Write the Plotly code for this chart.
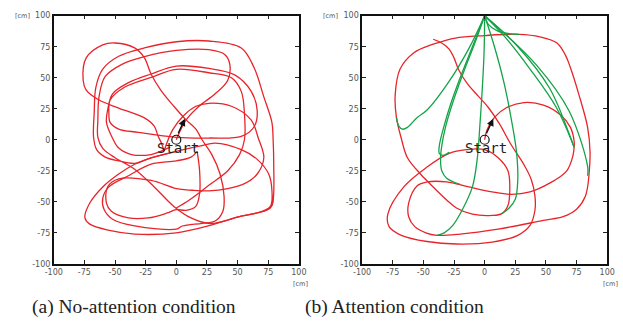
import plotly.graph_objects as go

# ---------------- data (cm) ----------------
tick_vals = [-100, -75, -50, -25, 0, 25, 50, 75, 100]
tick_text = ["-100", "-75", "-50", "-25", "0", "25", "50", "75", "100"]
start_point = (0, 0)
arrow_tail = (1, 4)
arrow_head = (7, 17)
target_point = (0, 100)

# (a) No-attention condition: red trajectory strokes
left_s1 = [(0, 0), (4, 9), (8, 16), (18.5, 27), (31.7, 37), (42, 48), (43.6, 61), (39.7, 68.6),
           (26.5, 72.6), (0, 72), (-26, 67), (-44, 61), (-58, 51), (-63, 35), (-64, 16), (-64, 2),
           (-60, -7), (-50, -14.5), (-34, -23.7), (-18, -38), (-2, -53.7), (12, -63), (27.6, -67.5),
           (53, -61.6), (66, -59), (76.7, -55), (79, -48.5), (79.5, -20), (79, 0), (78, 14),
           (71.4, 34.6), (63.5, 58), (53, 74), (26.5, 79.6), (0, 79), (-26, 74), (-47, 67.3),
           (-60, 57), (-65.6, 42.5), (-67, 21.6), (-67.5, 2), (-65, -8), (-58, -14), (-47, -17),
           (-34, -19), (-20.6, -14.5), (0, -9.3), (20, -5), (31.7, -2.7), (53, -8), (66, -15.8),
           (75.4, -27.6), (78, -40.7), (76.7, -53.7), (66, -59)]
left_s2 = [(-10, -9), (-12, -3), (-15, 3.3), (-18, 11), (-26, 17.6), (-47, 25.5), (-63, 32),
           (-73.5, 40), (-76, 48), (-73.5, 66), (-60, 76.5), (-50, 78), (-34, 74), (-26, 66),
           (-20.6, 53), (-12.7, 40), (-2, 27), (8, 16), (16, 8.5), (21, 0), (29, -12), (35.7, -27.6),
           (39, -46), (38, -57.6), (31.7, -65.5), (21, -67.3), (5, -69.5), (0, -72), (-34, -69.4),
           (-52, -64), (-59, -56), (-60, -47), (-55, -38), (-39, -29), (-20.6, -19.7), (0, -17),
           (12, -14), (17, -9.3)]
left_s3 = [(17, -9.3), (19, -25), (19, -43.3), (15.9, -53.7), (8, -56.9), (0, -56.3), (-7.4, -59),
           (-23, -63), (-39, -63), (-53, -57.6), (-57, -51), (-56, -38), (-47, -31.5), (-20.6, -32.8),
           (0, -39.4), (13, -40.7), (26.5, -41.2), (42, -39.4), (55.6, -35.4), (66, -27.6),
           (71.4, -14.5), (67, 1), (61, 16), (45, 27), (26.5, 29.4), (16, 27), (5.3, 18.8),
           (-3, 8), (-10, -9)]
left_s4 = [(-5, -6), (-12.7, -9.3), (-20.6, -11.9), (-36.5, -11.9), (-47, -6.7), (-52, 1.2), (-57, 14),
           (-56, 24), (-52, 37), (-39, 46), (-20.6, 53), (0, 59.4), (26.5, 57.5), (47.6, 52.3),
           (61, 39.2), (66, 23.5), (63.5, 10.5), (53, 2.7), (26.5, 1.4), (0, 2), (-31, 6), (-47, 8.6),
           (-54, 14), (-55, 22), (-54, 32), (-42, 42.5), (-20.6, 50.3), (0, 56.8), (26.5, 54), (45, 50),
           (53, 39), (55.6, 21), (55.6, 0), (51.6, -12), (42, -25), (26.5, -36.7), (10.6, -48.5), (0, -55)]
left_s5 = [(0, -9.3), (-20.6, -14.5), (-34, -19.7), (-47, -27.6), (-60, -38), (-70.6, -51),
           (-74.6, -62.7), (-70.6, -68), (-54.6, -73), (-34, -76), (0, -75), (27.6, -69), (48.8, -62.5),
           (72.7, -57), (78, -53), (79, -45)]
left_red = [left_s1, left_s2, left_s3, left_s4, left_s5]

# (b) Attention condition: red trajectory strokes
right_r1 = [(0, 0), (2, 8), (8, 18), (18, 26), (32, 30), (48, 28), (62, 20), (70, 10), (73, -1), (73, -6),
            (72, -13), (67, -25), (53, -35), (37, -42), (22, -44), (6, -42), (-13, -38), (-31, -34),
            (-47, -34), (-55, -37), (-62, -51), (-62, -62), (-57, -70), (-48, -75), (-39, -77), (-20, -76),
            (11, -72), (48, -65), (64, -62), (75, -56), (82, -46), (85, -30)]
right_r2 = [(85, -30), (86, -10), (84, 10), (77, 36), (70, 58), (66, 68), (59, 78), (45, 83), (28, 85),
            (0, 84), (-24, 82), (-42, 77), (-58, 70), (-69, 57), (-73, 36), (-72, 18), (-68, 1),
            (-63, -14.5), (-52, -28), (-42, -38), (-31, -48.5), (-23, -55), (-10, -60), (6, -61),
            (14, -59.5), (19, -53), (20.5, -40), (19, -25), (11, -14.5), (0, -8), (-15, -8), (-29, -11),
            (-47, -22), (-66, -38), (-79, -60), (-78, -70), (-68, -77), (-47, -82), (-23, -84),
            (6, -82.5), (27, -77), (37, -69), (41, -57), (41, -45), (38, -32), (32, -20), (21, -3),
            (12, 13), (3, 26), (-5, 35), (-14, 45), (-21, 56), (-25, 66), (-29, 73), (-35, 78), (-42, 81)]
right_red = [right_r1, right_r2]

# (b) Attention condition: green (attention) strokes
right_g1 = [(-72, 18), (-70, 11), (-67, 8.5), (-63, 10), (-55, 18), (-47, 24), (-28.6, 47.7),
            (-12.7, 73.9), (0, 100)]
right_g2 = [(-29, -10), (-34, -12.5), (-37, -11), (-37, -5), (-34, 8), (-28, 28), (-20, 50), (-10, 75),
            (0, 100)]
right_g3 = [(-20, -36), (-31, -31), (-35, -25), (-36, -15), (-35, -5), (-32, 10), (-26, 30), (-17, 55),
            (-8, 78), (0, 100)]
right_g4 = [(-39, -77), (-33, -75), (-26, -69), (-18, -56), (-10, -38), (-6, -15), (-4, 10), (-2, 40),
            (-0.5, 70), (0, 100)]
right_g5 = [(14, -59.5), (20, -55), (25, -48), (27, -33), (26, -10), (22, 15), (16, 45), (8, 75), (0, 100)]
right_g6 = [(73, -6), (69, 4.7), (53, 41.5), (26.6, 75.6), (0, 100)]
right_g7 = [(73, -6), (58.5, 26), (37, 57), (16, 83.5), (0, 100)]
right_g8 = [(84, -29), (84, -21.5), (69, 23), (42.5, 60), (0, 100)]
right_g9 = [(0, 100), (3, 93), (10, 88), (20, 85.5), (28, 85)]
right_green = [right_g1, right_g2, right_g3, right_g4, right_g5, right_g6, right_g7, right_g8, right_g9]

captions = ["(a) No-attention condition", "(b) Attention condition"]

RED = "#e8242b"
GREEN = "#14a347"

fig = go.Figure()

def add_strokes(strokes, color, xa, ya):
    for s in strokes:
        xs = [p[0] for p in s]
        ys = [p[1] for p in s]
        fig.add_trace(go.Scatter(x=xs, y=ys, mode="lines", xaxis=xa, yaxis=ya,
                                 line=dict(color=color, width=1.3, shape="spline", smoothing=1.0),
                                 showlegend=False, hoverinfo="skip"))

add_strokes(left_red, RED, "x", "y")
add_strokes(right_red, RED, "x2", "y2")
add_strokes(right_green, GREEN, "x2", "y2")

for xa, ya in [("x", "y"), ("x2", "y2")]:
    fig.add_trace(go.Scatter(x=[start_point[0]], y=[start_point[1]], mode="markers", xaxis=xa, yaxis=ya,
                             marker=dict(symbol="circle-open", size=9, color="#111", line=dict(width=1.2)),
                             showlegend=False, hoverinfo="skip"))

axis_common = dict(range=[-100, 100], tickvals=tick_vals, ticktext=tick_text, ticks="inside", ticklen=4,
                   tickcolor="#222", showline=True, linecolor="#111", linewidth=1.5, mirror="ticks",
                   showgrid=False, zeroline=False, tickfont=dict(family="DejaVu Sans", size=8, color="#555"),
                   fixedrange=True)

fig.update_layout(
    width=623, height=336, margin=dict(l=0, r=0, t=0, b=0),
    paper_bgcolor="white", plot_bgcolor="white",
    xaxis=dict(domain=[46 / 623, 298 / 623], anchor="y", **axis_common),
    yaxis=dict(domain=[69 / 336, 324 / 336], anchor="x", **axis_common),
    xaxis2=dict(domain=[363 / 623, 615 / 623], anchor="y2", **axis_common),
    yaxis2=dict(domain=[69 / 336, 324 / 336], anchor="x2", **axis_common),
)

annotations = []
for xa, ya in [("x", "y"), ("x2", "y2")]:
    annotations.append(dict(x=arrow_head[0], y=arrow_head[1], ax=arrow_tail[0], ay=arrow_tail[1],
                            xref=xa, yref=ya, axref=xa, ayref=ya, showarrow=True, arrowhead=2,
                            arrowsize=1.1, arrowwidth=1.3, arrowcolor="#111", text=""))
    annotations.append(dict(x=1, y=-7, xref=xa, yref=ya, text="Start", showarrow=False,
                            xanchor="center", yanchor="middle",
                            font=dict(family="DejaVu Sans Mono", size=14, color="#222")))

# [cm] unit labels
for xp in [14, 331]:
    annotations.append(dict(x=xp / 623, y=1 - 12 / 336, xref="paper", yref="paper", text="[cm]",
                            xanchor="center", yanchor="middle", showarrow=False,
                            font=dict(family="DejaVu Sans", size=6.5, color="#555")))
for xp in [300, 618]:
    annotations.append(dict(x=xp / 623, y=1 - 288 / 336, xref="paper", yref="paper", text="[cm]",
                            xanchor="center", yanchor="middle", showarrow=False,
                            font=dict(family="DejaVu Sans", size=6.5, color="#555")))

for xp, cap in zip([129, 396], captions):
    annotations.append(dict(x=xp / 623, y=1 - 311 / 336, xref="paper", yref="paper", text=cap,
                            xanchor="center", yanchor="middle", showarrow=False,
                            font=dict(family="Liberation Serif", size=19.5, color="#222")))

fig.update_layout(annotations=annotations)
fig.write_html("out.html", config={"displayModeBar": False},
               post_script="document.body.style.margin='0';document.body.style.padding='0';")
